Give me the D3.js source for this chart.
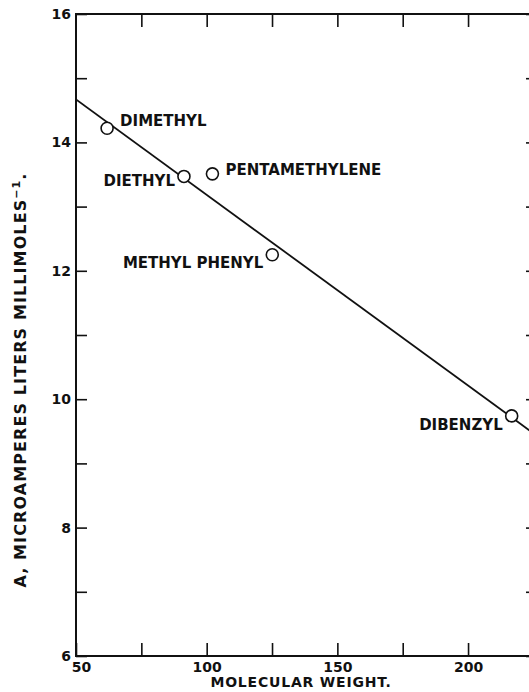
<!DOCTYPE html>
<html>
<head>
<meta charset="utf-8">
<script src="https://cdn.jsdelivr.net/npm/d3@7"></script>
<style>
  body { margin: 0; background: #fff; }
  text { font-family: "DejaVu Sans", sans-serif; font-weight: bold; fill: #111; }
</style>
</head>
<body>
<svg id="chart" width="529" height="692"></svg>
<script>
// compounds and their measured points
const compounds = ['DIMETHYL', 'DIETHYL', 'PENTAMETHYLENE', 'METHYL PHENYL', 'DIBENZYL'];
const molWeight = [61.9, 91.3, 102.2, 125.1, 216.7];
const aValue = [14.22, 13.47, 13.51, 12.25, 9.74];

// fitted straight line (two end points)
const fitX = [50, 226];
const fitY = [14.67, 9.44];

// axis ticks
const xTicks = [50, 75, 100, 125, 150, 175, 200, 225];
const xLabels = [50, 100, 150, 200];
const yTicks = [6, 7, 8, 9, 10, 11, 12, 13, 14, 15, 16];
const yLabels = [6, 8, 10, 12, 14, 16];

// label placement relative to each point (px offset, anchor)
const labelPos = [
    { dx: 13, dy: -2, anchor: 'start' },
    { dx: -9, dy: 10, anchor: 'end' },
    { dx: 13, dy: 1, anchor: 'start' },
    { dx: -9, dy: 13, anchor: 'end' },
    { dx: -9, dy: 14, anchor: 'end' }
];

const svg = d3.select('#chart');
const m = { left: 76, right: 536, top: 14, bottom: 656 };

const x = d3.scaleLinear().domain([50, 226]).range([m.left, m.right]);
const y = d3.scaleLinear().domain([6, 16]).range([m.bottom, m.top]);

svg.append('defs').append('clipPath').attr('id', 'plot')
    .append('rect').attr('x', m.left).attr('y', m.top)
    .attr('width', m.right - m.left).attr('height', m.bottom - m.top);

// bottom axis
const xb = svg.append('g').attr('transform', `translate(0,${m.bottom})`)
    .call(d3.axisBottom(x).tickValues(xTicks).tickSize(-13).tickPadding(6)
        .tickFormat(d => xLabels.includes(d) ? d : ''));
// top axis (ticks only)
const xt = svg.append('g').attr('transform', `translate(0,${m.top})`)
    .call(d3.axisTop(x).tickValues(xTicks.slice(1)).tickSize(-13).tickFormat(''));
// left axis
const yl = svg.append('g').attr('transform', `translate(${m.left},0)`)
    .call(d3.axisLeft(y).tickValues(yTicks).tickSize(-11).tickPadding(5)
        .tickFormat(d => yLabels.includes(d) ? d : ''));
// right axis (ticks only)
const yr = svg.append('g').attr('transform', `translate(${m.right},0)`)
    .call(d3.axisRight(y).tickValues(yTicks).tickSize(-10).tickFormat(''));

[xb, xt, yl, yr].forEach(g => {
    g.select('.domain').remove();
    g.selectAll('line').attr('stroke', '#111').attr('stroke-width', 1.6);
    g.selectAll('text').attr('font-size', 14).attr('fill', '#111')
        .attr('font-family', '"DejaVu Sans", sans-serif').attr('font-weight', 'bold');
});
// the "50" label sits a little right of the corner
xb.selectAll('.tick').filter(d => d === 50).select('text').attr('dx', 5);

// frame
svg.append('rect')
    .attr('x', m.left).attr('y', m.top)
    .attr('width', m.right - m.left).attr('height', m.bottom - m.top)
    .attr('fill', 'none').attr('stroke', '#111').attr('stroke-width', 2);

// fitted line
svg.append('path')
    .datum(fitX.map((v, i) => [v, fitY[i]]))
    .attr('clip-path', 'url(#plot)')
    .attr('fill', 'none').attr('stroke', '#111').attr('stroke-width', 1.8)
    .attr('d', d3.line().x(d => x(d[0])).y(d => y(d[1])));

// points
const pts = compounds.map((c, i) => ({ name: c, mw: molWeight[i], a: aValue[i], lp: labelPos[i] }));

svg.selectAll('circle.pt').data(pts).join('circle')
    .attr('class', 'pt')
    .attr('cx', d => x(d.mw)).attr('cy', d => y(d.a)).attr('r', 6)
    .attr('fill', '#fff').attr('stroke', '#111').attr('stroke-width', 1.6);

svg.selectAll('text.lbl').data(pts).join('text')
    .attr('class', 'lbl')
    .attr('x', d => x(d.mw) + d.lp.dx).attr('y', d => y(d.a) + d.lp.dy)
    .attr('text-anchor', d => d.lp.anchor)
    .attr('font-size', 15)
    .text(d => d.name);

// axis titles
svg.append('text')
    .attr('x', 301).attr('y', 687)
    .attr('text-anchor', 'middle').attr('font-size', 14)
    .attr('letter-spacing', 0.8)
    .text('MOLECULAR WEIGHT.');

const yt = svg.append('text')
    .attr('transform', 'translate(26,380) rotate(-90)')
    .attr('text-anchor', 'middle').attr('font-size', 16)
    .attr('letter-spacing', 1.1);
yt.append('tspan').text('A, MICROAMPERES LITERS MILLIMOLES');
yt.append('tspan').attr('font-size', 11).attr('baseline-shift', '55%').text('−1');
yt.append('tspan').text('.');
</script>
</body>
</html>
